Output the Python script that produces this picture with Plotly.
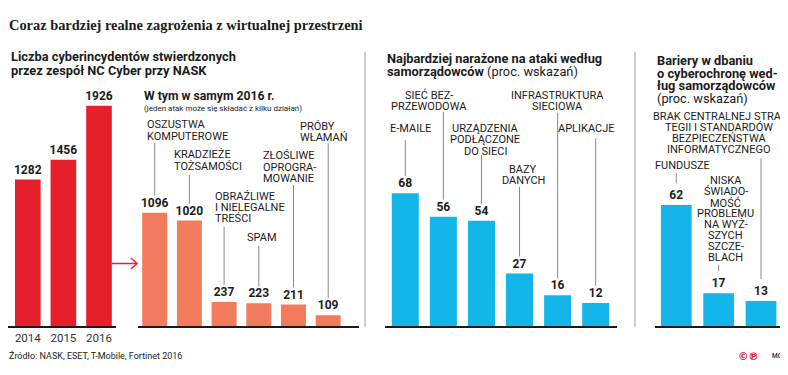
import plotly.graph_objects as go

# page body has an 8px margin; the figure is sized/offset so reference pixel coords map 1:1
OX, OY = 8, 8
W, H = 788 - OX, 375 - OY

# ---------------- data ----------------
years = ["2014", "2015", "2016"]
incidents = [1282, 1456, 1926]

types_2016 = ["Oszustwa komputerowe", "Kradzieże tożsamości", "Obraźliwe i nielegalne treści",
              "Spam", "Złośliwe oprogramowanie", "Próby włamań"]
types_2016_values = [1096, 1020, 237, 223, 211, 109]
types_2016_labels = [["OSZUSTWA", "KOMPUTEROWE"], ["KRADZIEŻE", "TOŻSAMOŚCI"],
                     ["OBRAŹLIWE", "I NIELEGALNE", "TREŚCI"], ["SPAM"],
                     ["ZŁOŚLIWE", "OPROGRA-", "MOWANIE"], ["PRÓBY", "WŁAMAŃ"]]

targets = ["E-maile", "Sieć bezprzewodowa", "Urządzenia podłączone do sieci",
           "Bazy danych", "Infrastruktura sieciowa", "Aplikacje"]
targets_values = [68, 56, 54, 27, 16, 12]
targets_labels = [["E-MAILE"], ["SIEĆ BEZ-", "PRZEWODOWA"], ["URZĄDZENIA", "PODŁĄCZONE", "DO SIECI"],
                  ["BAZY", "DANYCH"], ["INFRASTRUKTURA", "SIECIOWA"], ["APLIKACJE"]]

barriers = ["Fundusze", "Niska świadomość problemu na wyższych szczeblach",
            "Brak centralnej strategii i standardów bezpieczeństwa informatycznego"]
barriers_values = [62, 17, 13]
barriers_labels = [["FUNDUSZE"],
                   ["NISKA", "ŚWIADO-", "MOŚĆ", "PROBLEMU", "NA WYŻ-", "SZYCH", "SZCZE-", "BLACH"],
                   ["BRAK CENTRALNEJ STRA-", "TEGII I STANDARDÓW", "BEZPIECZEŃSTWA", "INFORMATYCZNEGO"]]

# ---------------- style / layout ----------------
SANS = "Roboto, 'Noto Sans', sans-serif"
SERIF = "'Liberation Serif', 'DejaVu Serif', serif"
TXT = "#1c1c1c"
RED = "#e5202a"
SALMON = "#f27a5d"
BLUE = "#14b6ea"
BASE = 326.5
TOP = 80.0


def px(x):
    return (x - OX) / W


def py(y):
    return 1 - (y - OY) / H


panels = [
    dict(cats=years, vals=incidents, color=RED, xd=(10, 116.8), scale=0.1146, gap=0.28,
         labels=None),
    dict(cats=types_2016, vals=types_2016_values, color=SALMON, xd=(137.35, 345.55), scale=0.1038,
         gap=0.28, labels=types_2016_labels, align="left", lead_gap=17,
         pos=[(145, 124.3), (171.7, 154.3), (213.3, 196), (245, 237.3), (261, 156), (298.3, 126.7)],
         spacing=[12, 12, 11, 11, 11.2, 11],
         lead_top=[143, 175, 226.7, 245.7, 185, 143.3]),
    dict(cats=targets, vals=targets_values, color=BLUE, xd=(386.25, 614.75), scale=1.96, gap=0.29,
         labels=targets_labels, align="center", lead_gap=17,
         pos=[(410.7, 128.3), (428.5, 95), (485, 128.3), (523.3, 169.3), (557.5, 95), (586.7, 128.3)],
         spacing=[11.5] * 6,
         lead_top=[140, 111.7, 155, 186.7, 112.7, 138.3]),
    dict(cats=barriers, vals=barriers_values, color=BLUE, xd=(655.1, 782.2), scale=1.96, gap=0.275,
         labels=barriers_labels, align="center", lead_gap=22,
         pos=[(682.5, 165.7), (725.8, 180.7), (718.8, 116)],
         spacing=[11.2, 10.95, 11.3],
         lead_top=[173.3, 265, 158.3]),
]

fig = go.Figure()
layout = dict(width=W, height=H, margin=dict(l=0, r=0, t=0, b=0),
              paper_bgcolor="white", plot_bgcolor="rgba(0,0,0,0)",
              showlegend=False, bargap=0.28)
annotations = []
shapes = []

for i, p in enumerate(panels, start=1):
    xa = "x" if i == 1 else f"x{i}"
    ya = "y" if i == 1 else f"y{i}"
    ymax = (BASE - TOP) / p["scale"]
    fig.add_trace(go.Bar(
        x=p["cats"], y=p["vals"], xaxis=xa, yaxis=ya,
        marker=dict(color=p["color"], line=dict(width=0)),
        text=[str(v) for v in p["vals"]], textposition="outside",
        textfont=dict(family=SANS, size=12, color=TXT, weight="bold"),
        constraintext="none", cliponaxis=False, hoverinfo="skip",
        width=1 - p["gap"],
    ))
    layout["xaxis" if i == 1 else f"xaxis{i}"] = dict(
        domain=[px(p["xd"][0]), px(p["xd"][1])], type="category", anchor=ya,
        showgrid=False, zeroline=False, showline=False, ticks="",
        showticklabels=(i == 1), tickfont=dict(family=SANS, size=11.5, color="#333"),
        ticklabelstandoff=3, fixedrange=True)
    layout["yaxis" if i == 1 else f"yaxis{i}"] = dict(
        domain=[py(BASE), py(TOP)], range=[0, ymax], anchor=xa, visible=False,
        showgrid=False, zeroline=False, fixedrange=True)

    if p["labels"]:
        for j, lines in enumerate(p["labels"]):
            x0, y0 = p["pos"][j]
            for k, line in enumerate(lines):
                annotations.append(dict(
                    text=line, xref="paper", yref="paper", x=px(x0), y=py(y0 + k * p["spacing"][j]),
                    xanchor=p["align"], yanchor="middle", showarrow=False,
                    font=dict(family=SANS, size=11, color=TXT)))
            # leader line from label down to value
            shapes.append(dict(
                type="line", xref=xa, yref=ya, x0=j, x1=j,
                y0=(BASE - p["lead_top"][j]) / p["scale"],
                y1=p["vals"][j] + p["lead_gap"] / p["scale"],
                line=dict(color="#8a8a8a", width=1)))

# baselines
for (a, b) in [(0, 116), (138, 359), (385, 617), (655, 785)]:
    shapes.append(dict(type="line", xref="paper", yref="paper", x0=px(a), x1=px(b),
                       y0=py(BASE + 0.5), y1=py(BASE + 0.5), line=dict(color="#1a1a1a", width=2)))

# separators and top rule
for sx in [365, 635]:
    shapes.append(dict(type="line", xref="paper", yref="paper", x0=px(sx), x1=px(sx),
                       y0=py(51.7), y1=py(326.7), line=dict(color="#bdbdbd", width=1.5)))
shapes.append(dict(type="line", xref="paper", yref="paper", x0=px(8), x1=px(785),
                   y0=py(7), y1=py(7), line=dict(color="#a8a8a8", width=1.5)))

# arrow between chart 1 and 2
shapes.append(dict(type="line", xref="paper", yref="paper", x0=px(112), x1=px(136.5),
                   y0=py(263.5), y1=py(263.5), line=dict(color=RED, width=1.5)))
shapes.append(dict(type="path", xref="paper", yref="paper",
                   path=f"M {px(131)},{py(258)} L {px(137)},{py(263.5)} L {px(131)},{py(269)}",
                   line=dict(color=RED, width=1.5)))


def txt(text, x, y, size, bold=False, family=SANS, color=TXT, anchor="left"):
    annotations.append(dict(text=text, xref="paper", yref="paper", x=px(x), y=py(y),
                            xanchor=anchor, yanchor="middle", showarrow=False,
                            font=dict(family=family, size=size, color=color,
                                      weight="bold" if bold else "normal")))


txt("Coraz bardziej realne zagrożenia z wirtualnej przestrzeni", 7, 25, 14.4, bold=True, family=SERIF)

txt("Liczba cyberincydentów stwierdzonych", 9, 56.7, 12.8, bold=True)
txt("przez zespół NC Cyber przy NASK", 9, 70.7, 12.8, bold=True)

txt("W tym w samym 2016 r.", 141.5, 96, 12.2, bold=True)
txt("(jeden atak może się składać z kilku działań)", 141.5, 109, 8)

txt("Najbardziej narażone na ataki według", 385, 58.3, 12.8, bold=True)
txt("<b>samorządowców</b> (proc. wskazań)", 385, 71.7, 12.8)

txt("Bariery w dbaniu", 655, 60.7, 12.8, bold=True)
txt("o cyberochronę wed-", 655, 73.3, 12.8, bold=True)
txt("ług samorządowców", 655, 85.7, 12.8, bold=True)
txt("(proc. wskazań)", 655, 98.3, 12.8)

txt("Źródło: NASK, ESET, T-Mobile, Fortinet 2016", 7, 355, 9)
txt("©℗", 736, 355.5, 10.5, bold=True, color=RED, family="'DejaVu Sans', sans-serif")
txt("MC", 770, 355.5, 6.5, bold=True, color="#444")

layout["annotations"] = annotations
layout["shapes"] = shapes
fig.update_layout(**layout)
fig.write_html("out.html")
